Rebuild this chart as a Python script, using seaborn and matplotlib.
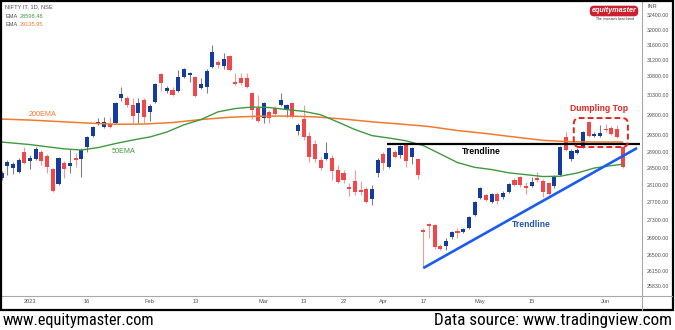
import numpy as np
import pandas as pd
import matplotlib
matplotlib.use("Agg")
import matplotlib.pyplot as plt
from matplotlib.patches import FancyBboxPatch, Rectangle
from matplotlib.lines import Line2D
from matplotlib.ticker import FixedLocator, FixedFormatter, NullLocator
from matplotlib import font_manager as fm
import seaborn as sns

# ---------------------------------------------------------------- data
# NSE trading sessions (weekdays minus exchange holidays)
holidays = pd.to_datetime(["2023-01-26", "2023-03-07", "2023-03-30", "2023-04-04",
                           "2023-04-07", "2023-04-14", "2023-05-01"])
sessions = pd.bdate_range("2022-12-26", "2023-06-06")
sessions = sessions[~sessions.isin(holidays)]

open_ = [28271, 28556, 28509, 28414, 28893, 28676, 28724, 28893, 28796, 28485,
         28130, 28628, 28556, 28748, 28724, 29014, 29282, 29577, 29503, 29577,
         29602, 30228, 30228, 30051, 29851, 30177, 29876, 30127, 30840, 30405,
         30430, 30405, 30763, 30827, 30763, 30481, 30507, 31021, 31151, 31047,
         31308, 30635, 30737, 30737, 30354, 29976, 29726, 29876, 29976, 30051,
         29951, 30101, 29405, 29701, 29282, 29087, 28700, 28724, 28748, 28461,
         28390, 28059, 28200, 27989, 28012, 27779, 28390, 28845, 28533, 28893,
         28820, 29062, 28772, 28724, 27068, 27205, 27182, 26709, 26709, 26910,
         27046, 27023, 27114, 27410, 27802, 27872, 27710, 27896, 27826, 27942,
         28224, 28295, 28083, 28083, 28271, 28200, 28153, 28083, 28342, 29258,
         28724, 28869, 29014, 29627, 29282, 29282, 29454, 29479, 29454, 29014]
high = [28437, 28700, 28652, 28748, 29014, 28820, 29014, 28941, 28845, 28509,
        28772, 28676, 28965, 28869, 28990, 29282, 29528, 29726, 29751, 29751,
        30127, 30507, 30278, 30228, 30228, 30228, 30076, 30609, 30866, 30532,
        30507, 30944, 30995, 30892, 30789, 30737, 30969, 31597, 31203, 31387,
        31334, 30866, 30866, 30866, 30380, 30303, 30127, 29926, 30026, 30354,
        30076, 30127, 29602, 30051, 29380, 29184, 28772, 29136, 28820, 28580,
        28461, 28153, 28461, 28200, 28059, 28106, 28748, 28893, 29014, 28941,
        29062, 29070, 29014, 28748, 27114, 27228, 27205, 26753, 26888, 27046,
        27114, 27114, 27387, 27733, 28059, 27896, 27919, 27942, 27966, 28153,
        28271, 28319, 28177, 28295, 28414, 28248, 28177, 28342, 29038, 29380,
        28965, 28990, 29405, 29652, 29380, 29553, 29577, 29528, 29553, 29038]
low = [28224, 28342, 28366, 28390, 28604, 28485, 28700, 28580, 28390, 27942,
       28106, 28271, 28390, 28533, 28295, 28893, 29258, 29553, 29479, 29479,
       29577, 30152, 30001, 29602, 29602, 29602, 29652, 30101, 30405, 30354,
       30278, 30380, 30737, 30635, 30253, 30456, 30354, 30995, 30995, 30969,
       30918, 30558, 30558, 30481, 29701, 29627, 29602, 29602, 29801, 30026,
       29751, 29726, 29307, 29184, 28652, 28652, 28461, 28700, 28224, 28153,
       28153, 27849, 27872, 27872, 27687, 27640, 28295, 28461, 28509, 28748,
       28748, 28533, 28604, 28248, 26222, 26888, 26642, 26619, 26619, 26866,
       26888, 27001, 27091, 27387, 27779, 27733, 27687, 27663, 27779, 27919,
       28083, 28059, 27896, 28059, 28177, 27826, 27872, 28036, 28319, 28917,
       28676, 28845, 28990, 29258, 29258, 29258, 29380, 29307, 29233, 28509]
close = [28390, 28652, 28604, 28700, 28628, 28748, 28965, 28676, 28533, 27966,
         28748, 28485, 28628, 28712, 28941, 29258, 29503, 29627, 29627, 29503,
         30101, 30329, 30051, 29776, 30101, 29751, 30026, 30583, 30609, 30481,
         30303, 30763, 30969, 30866, 30278, 30583, 30918, 31413, 31073, 31229,
         30944, 30597, 30609, 30507, 29926, 29652, 30101, 29726, 29826, 30177,
         30051, 29751, 29553, 29258, 28772, 28724, 28509, 28869, 28437, 28177,
         28224, 28012, 27942, 27942, 27710, 28012, 28700, 28628, 28990, 28772,
         29038, 28676, 28990, 28342, 27023, 27159, 26687, 26642, 26821, 27023,
         27001, 27091, 27364, 27710, 28036, 27756, 27896, 27733, 27919, 28130,
         28106, 28106, 28036, 28177, 28224, 27942, 27896, 28319, 29014, 28941,
         28917, 28941, 29380, 29282, 29331, 29356, 29429, 29331, 29258, 28533]

# exponential moving averages, sampled by session number
ema200_session = [0, 5, 10, 15, 20, 25, 30, 35, 40, 45, 50, 55, 60, 65, 70, 75,
                  80, 85, 90, 95, 100, 105, 109]
ema200 = [29701, 29676, 29639, 29602, 29572, 29577, 29614, 29689, 29746, 29771,
          29776, 29756, 29701, 29632, 29577, 29516, 29417, 29344, 29258, 29177,
          29141, 29136, 29136]
ema50_session = [0, 5, 8, 11, 14, 17, 20, 23, 26, 29, 32, 35, 38, 41, 44, 47, 50,
                 53, 56, 59, 62, 65, 68, 71, 74, 77, 80, 83, 86, 89, 92, 95, 98,
                 101, 104, 107, 109]
ema50 = [29136, 29074, 29021, 28970, 28941, 29002, 29099, 29184, 29258, 29380,
         29558, 29689, 29881, 29963, 30001, 29988, 29938, 29893, 29808, 29627,
         29442, 29292, 29233, 29165, 29050, 28845, 28640, 28526, 28473, 28395,
         28352, 28307, 28314, 28390, 28509, 28568, 28599]

# price-axis labels
price_ticks = [32400, 32000, 31600, 31200, 30800, 30300, 29800, 29300, 28900,
               28500, 28100, 27700, 27300, 26900, 26500, 26150, 25830]
# date-axis labels
date_ticks = ["2023-01-02", "2023-01-16", "2023-02-01", "2023-02-13", "2023-03-01",
              "2023-03-13", "2023-03-22", "2023-04-03", "2023-04-17", "2023-05-02",
              "2023-05-15", "2023-06-01"]
date_labels = ["2023", "16", "Feb", "13", "Mar", "13", "22", "Apr", "17", "May",
               "15", "Jun"]

# drawn studies: horizontal resistance and rising support (session, price)
resistance_session = [67.7, 112.0]
resistance_price = [29087, 29087]
support_session = [74.0, 111.5]
support_price = [26222, 28990]
# dumpling-top zone
zone_session = [100.4, 109.9]
zone_price = [29014, 29726]

ema50_last = 28598.48
ema200_last = 29135.95

# ---------------------------------------------------------------- style
sns.set_theme(style="white")
plt.rcParams["font.family"] = ["Liberation Sans", "DejaVu Sans"]


def pick(names):
    for n in names:
        try:
            fm.findfont(fm.FontProperties(family=n), fallback_to_default=False)
            return n
        except Exception:
            pass
    return "DejaVu Sans"


narrow = pick(["Liberation Sans Narrow", "Roboto Condensed", "DejaVu Sans"])

BLUE = "#143c9e"
RED = "#f0474a"
WICK_UP = "#808080"
WICK_DN = "#f29a9a"
ORANGE = "#f07a2e"
GREEN = "#3f9a3f"
GREY = "#505050"

W, H = 675, 330
fig = plt.figure(figsize=(W / 100, H / 100), dpi=100)
fig.patch.set_facecolor("white")


def fx(x):
    return x / W


def fy(y):
    return 1 - y / H


ax = fig.add_axes([fx(1), fy(296), fx(642) - fx(1), fy(2) - fy(296)])
ax.set_yscale("log")

x = np.arange(len(sessions))
o = np.array(open_, float)
h = np.array(high, float)
l = np.array(low, float)
c = np.array(close, float)
up = c >= o
lo = np.minimum(o, c)
hi = np.maximum(o, c)
height = np.maximum(hi - lo, lo * 0.0010)

ax.vlines(x, l, h, colors=np.where(up, WICK_UP, WICK_DN), lw=0.8, zorder=2)
ax.bar(x, height, bottom=lo, width=0.72, color=np.where(up, BLUE, RED),
       linewidth=0, zorder=3)

sns.lineplot(x=ema200_session, y=ema200, ax=ax, color=ORANGE, lw=1.1, zorder=4)
sns.lineplot(x=ema50_session, y=ema50, ax=ax, color=GREEN, lw=1.0, zorder=4)

ax.plot(resistance_session, resistance_price, color="black", lw=1.6,
        solid_capstyle="butt", zorder=5)
ax.plot(support_session, support_price, color="#1a5cf0", lw=1.9,
        solid_capstyle="butt", zorder=5)

xmin, xmax = -0.09, 112.37
ymin, ymax = 25616, 32755
ax.set_xlim(xmin, xmax)
ax.set_ylim(ymin, ymax)


# zone box in axes fractions so the corner rounding stays circular
def to_axes(sx, p):
    return ((sx - xmin) / (xmax - xmin),
            (np.log(p) - np.log(ymin)) / (np.log(ymax) - np.log(ymin)))


bx0, by0 = to_axes(zone_session[0], zone_price[0])
bx1, by1 = to_axes(zone_session[1], zone_price[1])
ax_w = (642 - 1)
ax_h = (296 - 2)
box = FancyBboxPatch((bx0, by0), bx1 - bx0, by1 - by0,
                     boxstyle="round,pad=0,rounding_size=0.009",
                     mutation_aspect=ax_w / ax_h, transform=ax.transAxes,
                     fill=False, ec="#e8231f", lw=1.4, ls=(0, (3, 1.6)), zorder=6)
ax.add_patch(box)

# annotations
ax.text(7.2, 29826, "200EMA", color=ORANGE, fontsize=5.2, ha="center", va="center")
ax.text(21.5, 28917, "50EMA", color=GREEN, fontsize=5.2, ha="center", va="center")
ax.text(84.1, 28900, "Trendline", color="black", fontsize=6.2, fontweight="bold",
        ha="center", va="center")
ax.text(92.9, 27205, "Trendline", color="#2354a6", fontsize=6.2, fontweight="bold",
        ha="center", va="center")
ax.text(104.8, 29976, "Dumpling Top", color="#e8231f", fontsize=6.2,
        fontweight="bold", ha="center", va="center")

# axes cosmetics
ax.yaxis.tick_right()
ax.yaxis.set_major_locator(FixedLocator(price_ticks))
ax.yaxis.set_major_formatter(FixedFormatter([f"{v:.2f}" for v in price_ticks]))
ax.yaxis.set_minor_locator(NullLocator())
date_pos = [int(np.where(sessions == pd.Timestamp(d))[0][0]) for d in date_ticks]
ax.set_xticks(date_pos)
ax.set_xticklabels(date_labels)
ax.tick_params(axis="y", length=0, pad=3.6, labelsize=3.8, labelcolor=GREY)
ax.tick_params(axis="x", length=0, pad=2.2, labelsize=4.1, labelcolor=GREY)
ax.grid(False)
for side in ("left", "top"):
    ax.spines[side].set_visible(False)
for side in ("right", "bottom"):
    ax.spines[side].set_color("#a8a8a8")
    ax.spines[side].set_linewidth(0.8)
ax.set_facecolor("white")

# separators and outer frame
fig.add_artist(Line2D([fx(642), fx(642)], [fy(296), fy(310)], color="#a8a8a8",
                      lw=0.8, transform=fig.transFigure))
fig.add_artist(Line2D([fx(642), fx(672)], [fy(296), fy(296)], color="#a8a8a8",
                      lw=0.8, transform=fig.transFigure))
fig.add_artist(Rectangle((fx(0.8), fy(310)), fx(672.5) - fx(0.8), fy(0.8) - fy(310),
                         transform=fig.transFigure, fill=False, ec="black", lw=1.6))

# header
fig.text(fx(5), fy(7), "NIFTY IT, 1D, NSE", fontsize=4.1, color=GREY, va="center")
fig.text(fx(5), fy(16), "EMA", fontsize=4.1, color=GREY, va="center")
fig.text(fx(19.5), fy(16), f"{ema50_last:.2f}", fontsize=4.1, color=GREEN, va="center")
fig.text(fx(5), fy(24.5), "EMA", fontsize=4.1, color=GREY, va="center")
fig.text(fx(19.5), fy(24.5), f"{ema200_last:.2f}", fontsize=4.1, color=ORANGE,
         va="center")
fig.text(fx(648), fy(7), "INR", fontsize=4.1, color=GREY, va="center")

# logo
fig.text(fx(614), fy(11), "equitymaster", fontsize=5.2, color="white",
         fontweight="bold", style="italic", ha="center", va="center",
         bbox=dict(boxstyle="round,pad=0.25,rounding_size=0.6", fc="#cc1f2f", ec="none"))
fig.text(fx(615), fy(18.5), "The investor's best friend", fontsize=2.4, color="#222222",
         ha="center", va="center")

# footer
ft1 = fig.text(fx(3), fy(320), "www.equitymaster.com", fontsize=11, color="black",
               family=[narrow, "DejaVu Sans"], ha="left", va="center")
ft2 = fig.text(fx(672), fy(320), "Data source: www.tradingview.com", fontsize=11,
               color="black", family=[narrow, "DejaVu Sans"], ha="right", va="center")
renderer = fig.canvas.get_renderer()
for t, target in ((ft1, 152), (ft2, 239)):
    w = t.get_window_extent(renderer).width
    t.set_fontsize(11 * target / w)

fig.savefig("out.png", dpi=100, facecolor="white")
